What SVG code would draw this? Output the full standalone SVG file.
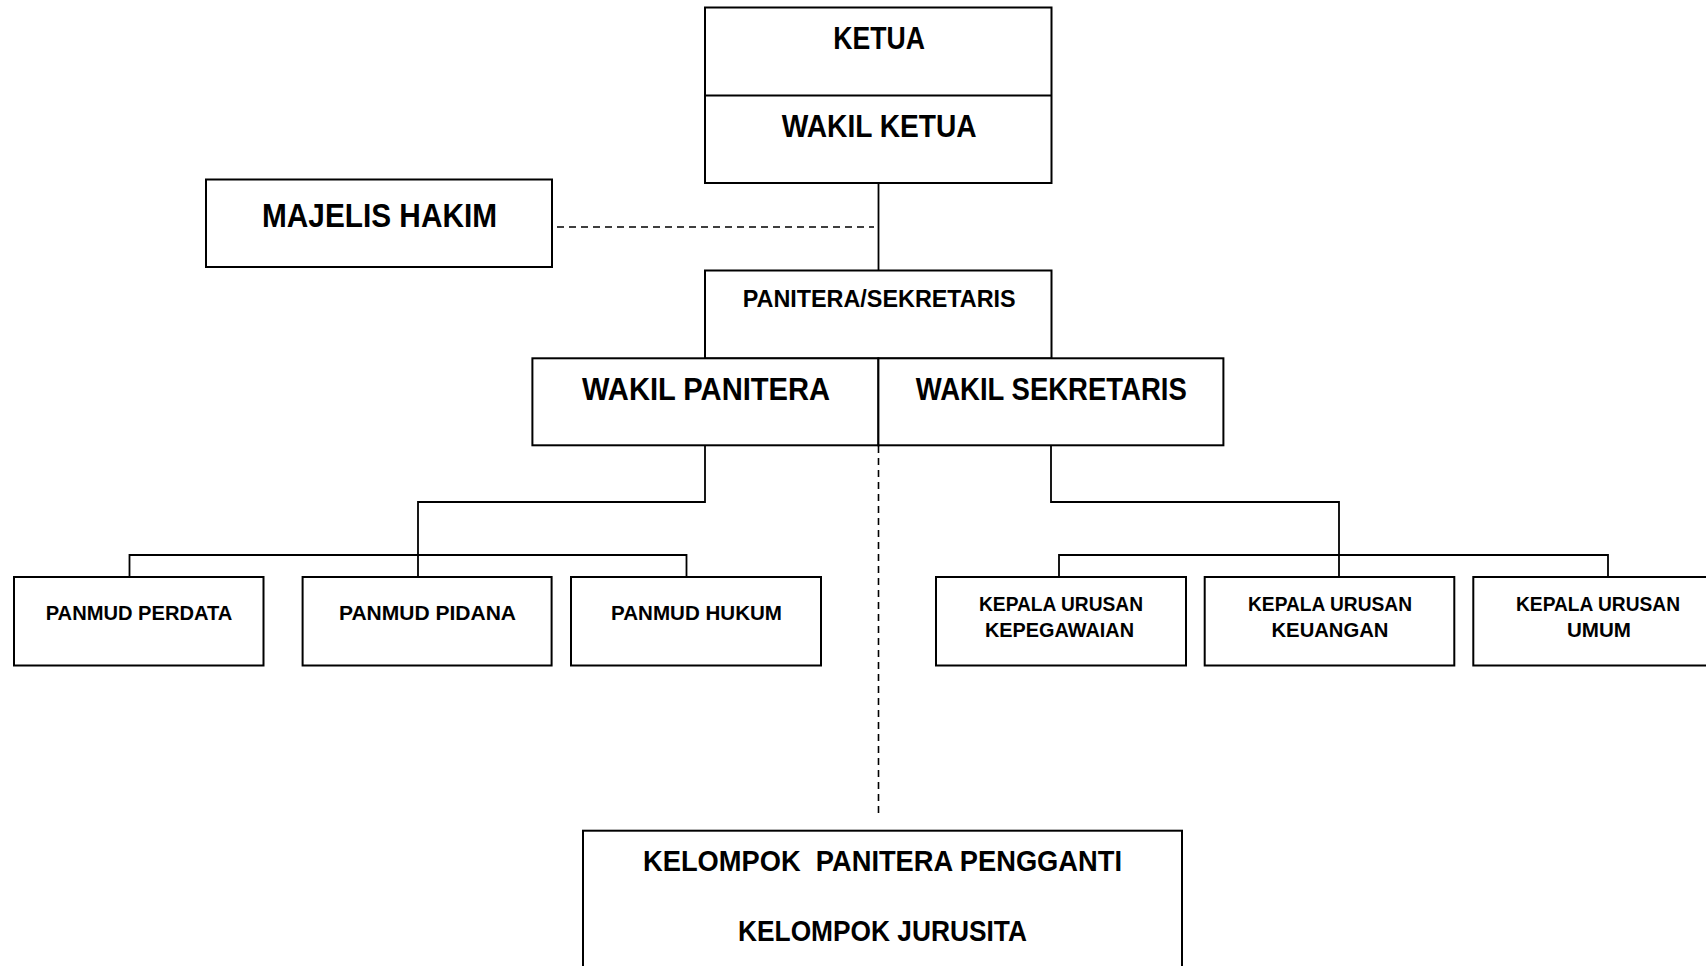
<svg xmlns="http://www.w3.org/2000/svg" width="1706" height="966" viewBox="0 0 1706 966">
<style>
.box{fill:#fff;stroke:#000;stroke-width:2}
.ln{fill:none;stroke:#000;stroke-width:1.8}
.dash{fill:none;stroke:#000;stroke-width:1.6;stroke-dasharray:7 5}
text{font-family:"Liberation Sans",Arial,sans-serif;font-weight:bold;fill:#000}
.f32{font-size:32px}.f33{font-size:33px}.f24{font-size:24px}.f20{font-size:20px}.f29{font-size:29px}
</style>
<rect width="1706" height="966" fill="#fff"/>
<g id="connectors">
<line class="ln" x1="878.5" y1="183" x2="878.5" y2="270"/>
<line class="dash" x1="557" y1="227" x2="874" y2="227"/>
<line class="dash" x1="878.5" y1="446" x2="878.5" y2="816"/>
<path class="ln" d="M705 446 V502 H418 V555"/>
<path class="ln" d="M129.5 577 V555 H686.5 V577 M418 555 V577"/>
<path class="ln" d="M1051 446 V502 H1339 V555"/>
<path class="ln" d="M1059 577 V555 H1608 V577 M1339 555 V577"/>
</g>
<g id="ketua">
<rect class="box" x="705" y="7.5" width="346.5" height="175.5"/>
<line class="ln" x1="705" y1="95.5" x2="1051.5" y2="95.5" style="stroke-width:2"/>
<text class="f32" x="833.3" y="49.3" textLength="91.7" lengthAdjust="spacingAndGlyphs">KETUA</text>
</g>
<g id="wakil-ketua">
<text class="f32" x="781.7" y="137.3" textLength="195" lengthAdjust="spacingAndGlyphs">WAKIL KETUA</text>
</g>
<g id="majelis-hakim">
<rect class="box" x="206" y="179.5" width="346" height="87.5"/>
<text class="f33" x="262" y="227.3" textLength="235" lengthAdjust="spacingAndGlyphs">MAJELIS HAKIM</text>
</g>
<g id="panitera-sekretaris">
<rect class="box" x="705" y="270.5" width="346.5" height="88"/>
<text class="f24" x="742.7" y="306.7" textLength="273" lengthAdjust="spacingAndGlyphs">PANITERA/SEKRETARIS</text>
</g>
<g id="wakil-panitera">
<rect class="box" x="532.4" y="358.3" width="346" height="87"/>
<text class="f32" x="582" y="400" textLength="248" lengthAdjust="spacingAndGlyphs">WAKIL PANITERA</text>
</g>
<g id="wakil-sekretaris">
<rect class="box" x="878.4" y="358.3" width="345" height="87"/>
<text class="f32" x="915.8" y="400" textLength="271" lengthAdjust="spacingAndGlyphs">WAKIL SEKRETARIS</text>
</g>
<g id="panmud-perdata">
<rect class="box" x="14" y="577" width="249.5" height="88.5"/>
<text class="f20" x="45.7" y="620" textLength="186.6" lengthAdjust="spacingAndGlyphs">PANMUD PERDATA</text>
</g>
<g id="panmud-pidana">
<rect class="box" x="302.6" y="577" width="249" height="88.5"/>
<text class="f20" x="339" y="620" textLength="177" lengthAdjust="spacingAndGlyphs">PANMUD PIDANA</text>
</g>
<g id="panmud-hukum">
<rect class="box" x="571" y="577" width="250" height="88.5"/>
<text class="f20" x="611" y="620" textLength="171" lengthAdjust="spacingAndGlyphs">PANMUD HUKUM</text>
</g>
<g id="kaur-kepegawaian">
<rect class="box" x="936" y="577" width="250" height="88.5"/>
<text class="f20" x="979" y="610.7" textLength="164" lengthAdjust="spacingAndGlyphs">KEPALA URUSAN</text>
<text class="f20" x="985" y="636.5" textLength="149" lengthAdjust="spacingAndGlyphs">KEPEGAWAIAN</text>
</g>
<g id="kaur-keuangan">
<rect class="box" x="1204.7" y="577" width="249.6" height="88.5"/>
<text class="f20" x="1248" y="610.7" textLength="164" lengthAdjust="spacingAndGlyphs">KEPALA URUSAN</text>
<text class="f20" x="1271.5" y="636.5" textLength="117" lengthAdjust="spacingAndGlyphs">KEUANGAN</text>
</g>
<g id="kaur-umum">
<rect class="box" x="1473.3" y="577" width="250" height="88.5"/>
<text class="f20" x="1516" y="610.7" textLength="164" lengthAdjust="spacingAndGlyphs">KEPALA URUSAN</text>
<text class="f20" x="1567" y="636.5" textLength="64" lengthAdjust="spacingAndGlyphs">UMUM</text>
</g>
<g id="kelompok">
<rect class="box" x="583" y="830.7" width="599" height="180"/>
<text class="f29" x="643" y="870.7" textLength="479" lengthAdjust="spacingAndGlyphs" xml:space="preserve">KELOMPOK  PANITERA PENGGANTI</text>
<text class="f29" x="738" y="940.7" textLength="289" lengthAdjust="spacingAndGlyphs">KELOMPOK JURUSITA</text>
</g>
</svg>
